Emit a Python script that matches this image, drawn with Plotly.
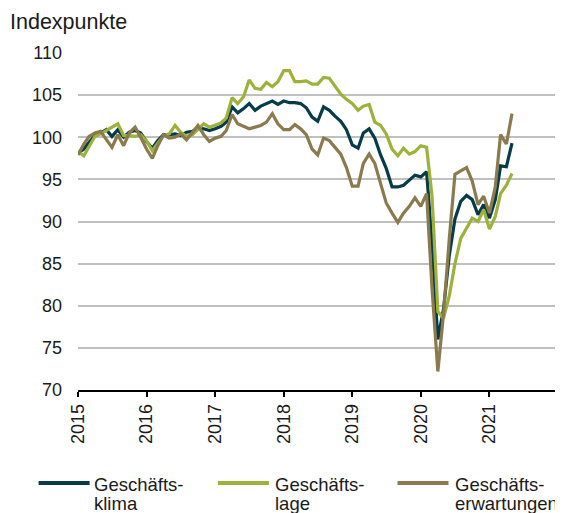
import pandas as pd
import plotly.graph_objects as go

months = pd.date_range("2015-01-01", "2021-05-01", freq="MS")

klima = [
    98.1, 98.6, 99.4, 100.2, 100.5, 100.9, 100.1, 100.9, 100.0, 100.6, 100.8, 100.5,
    99.5, 98.7, 99.6, 100.3, 100.3, 100.4, 100.2, 100.6, 100.7, 101.1, 101.0, 100.8,
    101.0, 101.3, 101.8, 103.6, 102.9, 103.4, 104.0, 103.2, 103.7, 104.0, 104.3, 103.9,
    104.3, 104.1, 104.1, 104.0, 103.5, 102.4, 101.9, 103.6, 103.2, 102.5, 101.9, 100.9,
    99.1, 98.7, 100.5, 101.0, 99.9, 97.9, 96.3, 94.1, 94.1, 94.3, 94.9, 95.5,
    95.3, 95.9, 87.5, 76.0, 79.6, 86.0, 90.3, 92.4, 93.1, 92.6, 90.8, 92.0,
    90.4, 92.6, 96.6, 96.5, 99.3,
]
lage = [
    98.3, 97.8, 98.9, 100.1, 100.4, 100.8, 101.1, 101.6, 100.2, 100.2, 100.1, 100.3,
    99.6, 98.4, 99.3, 100.2, 100.4, 101.4, 100.6, 100.1, 100.3, 101.0, 101.6, 101.2,
    101.5, 101.7, 102.3, 104.7, 104.0, 104.8, 106.8, 105.8, 105.7, 106.5, 106.0, 106.6,
    107.9, 107.9, 106.6, 106.6, 106.7, 106.3, 106.3, 107.1, 107.0, 106.1, 105.1, 104.5,
    104.0, 103.2, 103.7, 103.9, 101.8, 101.4, 100.4, 98.6, 97.8, 98.7, 98.0, 98.3,
    99.0, 98.8, 93.0, 79.3, 78.5, 81.2, 85.0, 88.0, 89.3, 90.4, 90.0, 91.4,
    89.1, 90.6, 93.3, 94.3, 95.7,
]
erwartungen = [
    97.9, 99.2, 100.1, 100.5, 100.7, 99.8, 98.8, 100.3, 99.0, 100.5, 101.2, 100.0,
    98.6, 97.5, 99.0, 100.3, 99.9, 100.0, 100.4, 99.7, 100.5, 101.4, 100.3, 99.5,
    99.9, 100.1, 100.8, 102.7, 101.6, 101.3, 101.0, 101.2, 101.4, 101.8, 102.8, 101.6,
    100.9, 100.9, 101.5, 101.0, 100.3, 98.6, 97.9, 99.9, 99.6, 98.8, 98.0, 96.4,
    94.2, 94.2, 96.9, 98.0, 96.9, 94.5, 92.2, 91.0, 89.9, 91.0, 91.8, 92.8,
    91.8, 93.3, 82.0, 72.2, 79.0, 88.0, 95.6, 96.0, 96.4, 94.8, 92.0, 93.0,
    91.0, 94.1, 100.3, 99.2, 102.8,
]

legend_line1 = ["Geschäfts-", "Geschäfts-", "Geschäfts-"]
legend_line2 = ["klima", "lage", "erwartungen"]
colors = ["#063b48", "#9cb23b", "#8a7a4e"]

year_ticks = [f"{y}-01-01" for y in range(2015, 2023)]
year_labels = [str(y) for y in range(2015, 2022)] + [""]

# figure sits inside the page's 8px body margin
W, H = 555, 505
ML, MR, MT, MB = 70, 5, 45, 123
PW, PH = W - ML - MR, H - MT - MB


def px_x(px):
    return (px - ML) / PW


def px_y(py):
    return (H - MB - py) / PH


fig = go.Figure()
for n1, n2, vals, col in zip(legend_line1, legend_line2, [klima, lage, erwartungen], colors):
    fig.add_trace(go.Scatter(
        x=months, y=vals, mode="lines", name=f"{n1}{n2}",
        line=dict(color=col, width=3.2),
    ))

font_family = "Liberation Sans, Arial, sans-serif"
txt_color = "#1a1a1a"

# legend drawn as shapes + text (two-line entries with tight line spacing)
legend_line_x = [30.6, 209.9, 389.5]
legend_text_x = [83.6, 265.0, 445.0]
shapes, annotations = [], []
for lx, tx, n1, n2, col in zip(legend_line_x, legend_text_x, legend_line1, legend_line2, colors):
    shapes.append(dict(
        type="line", xref="paper", yref="paper",
        x0=px_x(lx), x1=px_x(lx + 51), y0=px_y(475), y1=px_y(475),
        line=dict(color=col, width=4),
    ))
    annotations.append(dict(
        text=n1, xref="paper", yref="paper", x=px_x(tx), y=px_y(476),
        xanchor="left", yanchor="middle", showarrow=False,
        font=dict(size=18.5, family=font_family, color=txt_color),
    ))
    annotations.append(dict(
        text=n2, xref="paper", yref="paper", x=px_x(tx), y=px_y(496),
        xanchor="left", yanchor="middle", showarrow=False,
        font=dict(size=18.5, family=font_family, color=txt_color),
    ))

annotations.append(dict(
    text="Indexpunkte", xref="paper", yref="paper",
    x=px_x(0), y=px_y(14), xanchor="left", yanchor="middle",
    showarrow=False, font=dict(size=21.5, family=font_family, color=txt_color),
))

fig.update_layout(
    width=W, height=H,
    margin=dict(l=ML, r=MR, t=MT, b=MB, autoexpand=False),
    paper_bgcolor="white", plot_bgcolor="white",
    font=dict(family=font_family, size=18, color=txt_color),
    showlegend=False,
    shapes=shapes,
    annotations=annotations,
)
fig.update_xaxes(
    type="date", range=["2015-01-01", "2022-01-01"],
    tickvals=year_ticks, ticktext=year_labels, tickangle=-90,
    showgrid=False, showline=True, linecolor="black", linewidth=1.5,
    ticks="outside", ticklen=5, tickcolor="black", tickwidth=1.5,
    tickfont=dict(size=18), zeroline=False,
)
fig.update_yaxes(
    range=[70, 110], dtick=5, tick0=70,
    showgrid=True, gridcolor="#c0c0c0", gridwidth=2,
    showline=False, zeroline=False, ticks="", ticklabelstandoff=15,
    tickfont=dict(size=18),
)

fig.write_html("out.html")
